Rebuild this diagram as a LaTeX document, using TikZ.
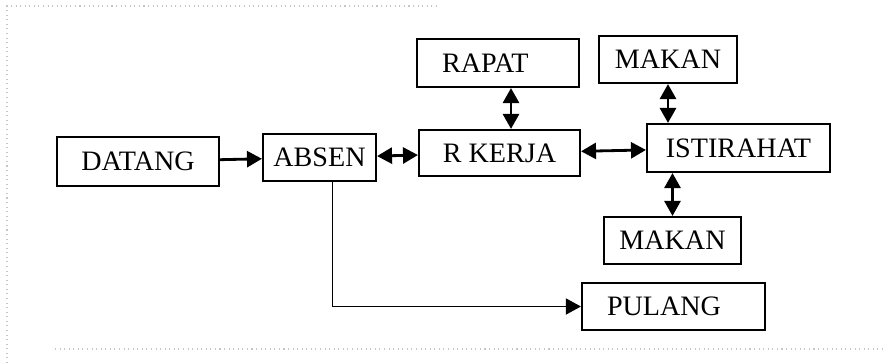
\documentclass[tikz,border=0pt]{standalone}
\usepackage{fontspec}
\setmainfont{Liberation Serif}
\usetikzlibrary{arrows.meta}

\begin{document}
\begin{tikzpicture}[
		box/.style={draw, line width=1.2pt, inner sep=0pt, font=\fontsize{16}{19}\selectfont},
		leftbox/.style={box, align=left, inner xsep=0.5cm},
		link/.style={line width=1.6pt, {Triangle[length=0.3cm, width=0.32cm]}-{Triangle[length=0.3cm, width=0.32cm]}},
		flow/.style={line width=1.6pt, -{Triangle[length=0.3cm, width=0.32cm]}}
	]
		\useasboundingbox (0,0) rectangle (17.66,7.26);

		% faint frame of the page
		\draw[gray!45, dotted, line width=0.6pt] (0.14,0) -- (0.14,7.14) -- (8.8,7.14);
		\draw[gray!45, dotted, line width=0.6pt] (1.1,0.28) -- (17.66,0.28);

		\node[box, minimum width=3.24cm, minimum height=0.98cm] (datang) at (2.76,4.03) {DATANG};
		\node[box, minimum width=2.26cm, minimum height=0.94cm] (absen) at (6.39,4.11) {ABSEN};
		\node[box, minimum width=3.22cm, minimum height=0.92cm] (rkerja) at (9.99,4.20) {R KERJA};
		\node[box, minimum width=3.66cm, minimum height=0.96cm] (istirahat) at (14.77,4.30) {ISTIRAHAT};
		\node[leftbox, text width=2.24cm, minimum height=0.96cm] (rapat) at (9.96,6.00) {RAPAT};
		\node[box, minimum width=2.76cm, minimum height=0.94cm] (makanatas) at (13.36,6.07) {MAKAN};
		\node[box, minimum width=2.74cm, minimum height=0.94cm] (makanbawah) at (13.45,2.45) {MAKAN};
		\node[leftbox, text width=2.66cm, minimum height=0.94cm] (pulang) at (13.47,1.13) {PULANG};

		\draw[flow] (datang) -- (absen);
		\draw[link] (absen) -- (rkerja);
		\draw[link] (rkerja) -- (istirahat);
		\draw[link] ([xshift=0.26cm]rapat.south) -- ([xshift=0.26cm]rapat.south |- rkerja.north);
		\draw[link] (makanatas.south) -- (makanatas.south |- istirahat.north);
		\draw[link] (makanbawah.north) -- (makanbawah.north |- istirahat.south);
		\draw[flow, line width=0.8pt] ([xshift=0.26cm]absen.south) |- (pulang.west);
	\end{tikzpicture}
\end{document}
